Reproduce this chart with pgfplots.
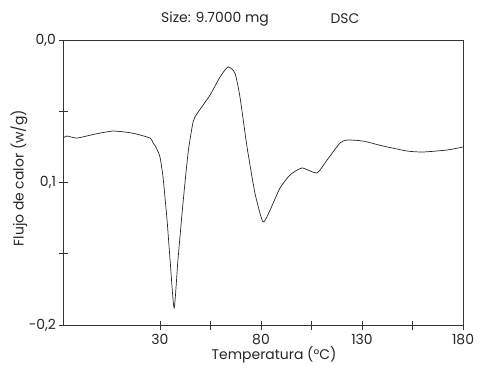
\documentclass[border=0pt]{standalone}
\usepackage{fontspec}
\setmainfont{Poppins}
\usepackage{pgfplots}
\pgfplotsset{compat=1.18}
\begin{document}
\begin{tikzpicture}[x=1bp,y=1bp]
\path[use as bounding box] (0,0) rectangle (481,369);
\begin{axis}[
  at={(63bp,44bp)}, anchor=south west,
  scale only axis, width=400bp, height=285bp,
  xmin=-18, xmax=180, ymin=-0.2, ymax=0,
  axis line style={black!80, line width=0.8pt},
  xtick={30,55,80,105,130,155,180},
  xticklabels={30,,80,,130,,180},
  ytick={-0.2,-0.15,-0.1,-0.05,0},
  yticklabels={{-0,2},,{0,1},,{0,0}},
  tick align=center, major tick length=9bp,
  tick style={black!80, line width=0.8pt},
  xtick pos=bottom, ytick pos=left,
  ticklabel style={font=\fontsize{14}{16}\selectfont, text=black!85},
  xticklabel style={yshift=-1bp},
  yticklabel style={xshift=1bp},
  /pgf/number format/assume math mode=true,
]
\addplot[black!85, line width=0.7pt, smooth, tension=0.35] coordinates {
(-18,-0.0688) (-16.0,-0.0674) (-11.1,-0.0688) (-2,-0.0660) (6.75,-0.0639)
(16.2,-0.0653) (25.1,-0.0688) (26.6,-0.0723) (28.0,-0.0751) (30.0,-0.0821)
(31.5,-0.0961) (33.5,-0.1263) (35.0,-0.1544) (37.0,-0.1881) (38.9,-0.1544)
(41.4,-0.1144) (43.9,-0.0793) (45.9,-0.0611) (47.3,-0.0540) (54.8,-0.0386)
(59.7,-0.0260) (63.7,-0.0189) (67.1,-0.0232) (69.6,-0.0400) (73.1,-0.0751)
(77.0,-0.1074) (81.0,-0.1277) (84.5,-0.1193) (89.4,-0.1039) (94.4,-0.0947)
(100.3,-0.0898) (107.7,-0.0933) (112.7,-0.0842) (119.1,-0.0723) (122.6,-0.0702)
(130.5,-0.0709) (140.4,-0.0744) (152.3,-0.0779) (160.2,-0.0786) (172.1,-0.0772)
(180,-0.0751)
};
\end{axis}
\node[font=\fontsize{14}{16}\selectfont, text=black!85] at (215,350) {Size: 9.7000 mg};
\node[font=\fontsize{14}{16}\selectfont, text=black!85] at (345,350) {DSC};
\node[font=\fontsize{14}{16}\selectfont, text=black!85] at (274,14) {Temperatura (°C)};
\node[font=\fontsize{14}{16}\selectfont, text=black!85, rotate=90] at (19,191) {Flujo de calor (w/g)};
\end{tikzpicture}
\end{document}
